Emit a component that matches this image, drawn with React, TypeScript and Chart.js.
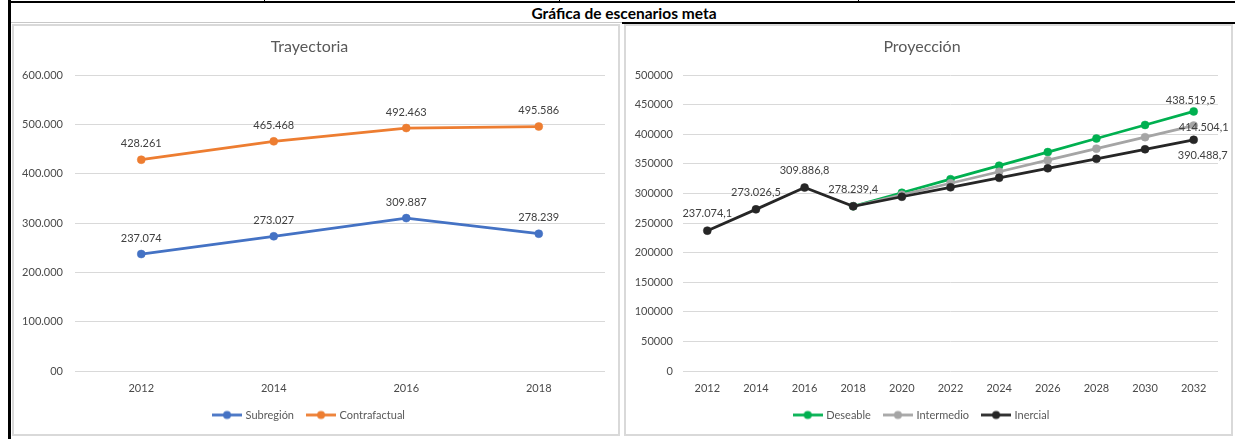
import React, { useEffect, useRef } from 'react';
import { Chart, registerables } from 'chart.js';

Chart.register(...registerables);

// ---------- Data ----------
const trajYears = ['2012', '2014', '2016', '2018'];
const subregion = [237074, 273027, 309887, 278239];
const contrafactual = [428261, 465468, 492463, 495586];

const projYears = ['2012', '2014', '2016', '2018', '2020', '2022', '2024', '2026', '2028', '2030', '2032'];
const deseable = [null, null, null, 278239.4, 301100, 324000, 346900, 369800, 392700, 415600, 438519.5];
const intermedio = [null, null, null, 278239.4, 297700, 317200, 336600, 356100, 375600, 395000, 414504.1];
const inercial = [237074.1, 273026.5, 309886.8, 278239.4, 294300, 310300, 326300, 342400, 358400, 374500, 390488.7];

const trajYTicks = [0, 100000, 200000, 300000, 400000, 500000, 600000];
const projYTicks = [0, 50000, 100000, 150000, 200000, 250000, 300000, 350000, 400000, 450000, 500000];

// ---------- Styles ----------
const BLUE = '#4472C4';
const ORANGE = '#ED7D31';
const GREEN = '#00B050';
const GRAY = '#A5A5A5';
const BLACK = '#262626';
const TEXT = '#595959';
const TICK = '#4a4a4a';
const LABEL = '#404040';
const FONT = 'Lato';

Chart.defaults.font.family = FONT;

const fmt0 = new Intl.NumberFormat('de-DE', { maximumFractionDigits: 0 });
const fmt1 = new Intl.NumberFormat('de-DE', { minimumFractionDigits: 1, maximumFractionDigits: 1 });

const pointLabels = {
  id: 'pointLabels',
  afterDatasetsDraw(chart: any, _args: any, opts: any) {
    const items = opts.items || [];
    const ctx = chart.ctx;
    ctx.save();
    ctx.font = `11px ${FONT}`;
    ctx.fillStyle = LABEL;
    ctx.textAlign = 'center';
    ctx.textBaseline = 'middle';
    for (const it of items) {
      const meta = chart.getDatasetMeta(it.ds);
      const data = chart.data.datasets[it.ds].data;
      for (const i of it.idx) {
        const el = meta.data[i];
        if (!el) continue;
        ctx.fillText(opts.format(data[i]), el.x + (it.dx || 0), el.y + (it.dy || 0));
      }
    }
    ctx.restore();
  },
};

function marker(color: string) {
  const c = document.createElement('canvas');
  c.width = 30;
  c.height = 11;
  const g = c.getContext('2d')!;
  g.strokeStyle = color;
  g.lineWidth = 2.75;
  g.beginPath();
  g.moveTo(0, 5.5);
  g.lineTo(30, 5.5);
  g.stroke();
  g.fillStyle = color;
  g.beginPath();
  g.arc(15, 5.5, 4, 0, Math.PI * 2);
  g.fill();
  return c;
}

function legendOpts() {
  return {
    position: 'bottom',
    labels: {
      usePointStyle: true,
      pointStyleWidth: 26,
      padding: 14,
      color: TEXT,
      font: { family: FONT, size: 11 },
      generateLabels: (chart: any) =>
        chart.data.datasets.map((ds: any, i: number) => ({
          text: ds.label,
          pointStyle: marker(ds.borderColor),
          fillStyle: ds.borderColor,
          strokeStyle: ds.borderColor,
          lineWidth: 0,
          hidden: false,
          datasetIndex: i,
          fontColor: TEXT,
        })),
    },
  };
}

function lineDs(label: string, data: any[], color: string, order: number) {
  return {
    label,
    data,
    borderColor: color,
    backgroundColor: color,
    pointBackgroundColor: color,
    pointBorderColor: color,
    borderWidth: 2.75,
    pointRadius: 4,
    pointBorderWidth: 0.5,
    tension: 0,
    spanGaps: false,
    order,
  };
}

function xScale() {
  return {
    offset: true,
    grid: { display: false, drawTicks: false, tickLength: 0 },
    border: { display: false },
    ticks: { padding: 11, color: TICK, font: { family: FONT, size: 11 }, autoSkip: false, maxRotation: 0 },
    afterFit: (s: any) => { s.height = 24.5; },
  };
}

function trajConfig(): any {
  return {
    type: 'line',
    data: {
      labels: trajYears,
      datasets: [lineDs('Subregión', subregion, BLUE, 1), lineDs('Contrafactual', contrafactual, ORANGE, 0)],
    },
    plugins: [pointLabels],
    options: {
      animation: false,
      responsive: false,
      layout: { padding: { left: 0, right: 13, top: 0, bottom: 3.5 } },
      plugins: {
        title: {
          display: true,
          text: 'Trayectoria',
          color: TEXT,
          font: { family: FONT, size: 16, weight: 'normal' },
          padding: { top: 11.4, bottom: 18.4 },
        },
        legend: legendOpts(),
        tooltip: { enabled: false },
        pointLabels: {
          format: (v: number) => fmt0.format(v),
          items: [
            { ds: 0, idx: [0, 1, 2, 3], dx: 0, dy: -16 },
            { ds: 1, idx: [0, 1, 2, 3], dx: 0, dy: -16 },
          ],
        },
      },
      scales: {
        x: xScale(),
        y: {
          min: trajYTicks[0],
          max: trajYTicks[trajYTicks.length - 1],
          afterBuildTicks: (s: any) => { s.ticks = trajYTicks.map((v) => ({ value: v })); },
          ticks: {
            padding: 12,
            color: TICK,
            font: { family: FONT, size: 11 },
            callback: (v: number) => (v === 0 ? '00' : fmt0.format(v)),
          },
          grid: { color: '#d9d9d9', drawTicks: false, lineWidth: 1 },
          border: { display: false },
          afterFit: (s: any) => { s.width = 61; },
        },
      },
    },
  };
}

function projConfig(): any {
  return {
    type: 'line',
    data: {
      labels: projYears,
      datasets: [
        lineDs('Deseable', deseable, GREEN, 2),
        lineDs('Intermedio', intermedio, GRAY, 1),
        lineDs('Inercial', inercial, BLACK, 0),
      ],
    },
    plugins: [pointLabels],
    options: {
      animation: false,
      responsive: false,
      layout: { padding: { left: 0, right: 12, top: 0, bottom: 3.5 } },
      plugins: {
        title: {
          display: true,
          text: 'Proyección',
          color: TEXT,
          font: { family: FONT, size: 16, weight: 'normal' },
          padding: { top: 11.4, bottom: 18.4 },
        },
        legend: legendOpts(),
        tooltip: { enabled: false },
        pointLabels: {
          format: (v: number) => fmt1.format(v),
          items: [
            { ds: 2, idx: [0, 1, 2, 3], dx: 0, dy: -17 },
            { ds: 0, idx: [10], dx: -3, dy: -11 },
            { ds: 1, idx: [10], dx: 10, dy: 2 },
            { ds: 2, idx: [10], dx: 9, dy: 16 },
          ],
        },
      },
      scales: {
        x: xScale(),
        y: {
          min: projYTicks[0],
          max: projYTicks[projYTicks.length - 1],
          afterBuildTicks: (s: any) => { s.ticks = projYTicks.map((v) => ({ value: v })); },
          ticks: {
            padding: 10,
            color: TICK,
            font: { family: FONT, size: 11 },
            callback: (v: number) => String(v),
          },
          grid: { color: '#d9d9d9', drawTicks: false, lineWidth: 1 },
          border: { display: false },
          afterFit: (s: any) => { s.width = 57; },
        },
      },
    },
  };
}

function ChartCanvas({ make, left, top }: { make: () => any; left: number; top: number }) {
  const ref = useRef<HTMLCanvasElement | null>(null);
  useEffect(() => {
    const ch = new Chart(ref.current as HTMLCanvasElement, make());
    return () => ch.destroy();
  }, []);
  return (
    <canvas
      ref={ref}
      width={604}
      height={408}
      style={{ position: 'absolute', left, top, width: 604, height: 408 }}
    />
  );
}

const abs = (l: number, t: number, w: number, h: number, extra: any = {}) => ({
  position: 'absolute' as const,
  left: l,
  top: t,
  width: w,
  height: h,
  ...extra,
});

export default function App() {
  return (
    <div style={abs(0, 0, 1235, 439, { background: '#fff', overflow: 'hidden' })}>
      {/* table frame */}
      <div style={abs(8, 1, 1227, 2, { background: '#000' })} />
      <div style={abs(264, 0, 1, 2, { background: '#000' })} />
      <div style={abs(559, 0, 1, 2, { background: '#000' })} />
      <div style={abs(858, 0, 1, 2, { background: '#000' })} />
      <div style={abs(8, 0, 3, 439, { background: '#000' })} />
      <div
        style={abs(11, 4, 1226, 18, {
          textAlign: 'center',
          font: `bold 15.5px ${FONT}`,
          lineHeight: '18px',
          color: '#000',
        })}
      >
        Gráfica de escenarios meta
      </div>
      <div style={abs(11, 22, 611, 1, { background: '#c8c8c8' })} />
      <div style={abs(622, 22, 613, 2, { background: '#000' })} />
      {/* chart boxes */}
      <div style={abs(12, 24, 608, 412, { border: '2px solid #d9d9d9', boxSizing: 'border-box' })} />
      <div style={abs(624, 24, 609, 412, { border: '2px solid #d9d9d9', boxSizing: 'border-box' })} />
      <ChartCanvas make={trajConfig} left={14} top={26} />
      <ChartCanvas make={projConfig} left={626} top={26} />
    </div>
  );
}
